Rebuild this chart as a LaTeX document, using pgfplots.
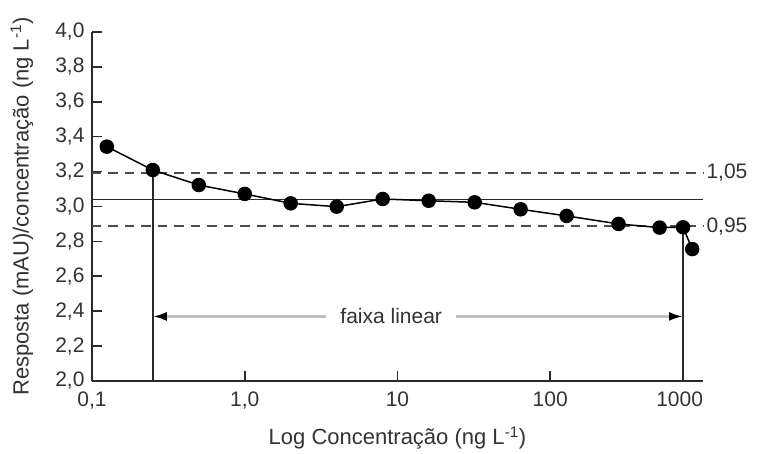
\documentclass[border=0pt]{standalone}
\usepackage{fontspec}
\setmainfont{Liberation Sans}
\usepackage{pgfplots}
\pgfplotsset{compat=1.18}
\usetikzlibrary{arrows.meta}
\definecolor{txt}{HTML}{333333}
\definecolor{axc}{HTML}{2A2A2A}
\begin{document}
\begin{tikzpicture}
\begin{axis}[
  scale only axis, width=611pt, height=349pt,
  xmode=log, xmin=0.1, xmax=1000, ymin=2, ymax=4,
  axis x line=bottom, axis y line=left,
  axis line style={-, axc, line width=1.6pt},
  tick style={axc, line width=1.6pt},
  tick align=inside, major tick length=10pt,
  xtick={1,10,100}, xticklabels={{1,0},{10},{100}},
  extra x ticks={0.1,1000}, extra x tick labels={{0,1},{\makebox[0pt][r]{1000}}},
  extra x tick style={major tick length=0pt},
  xminorticks=false, yminorticks=false,
  ytick={2,2.2,...,4.01},
  yticklabel={\pgfmathprintnumber[fixed,fixed zerofill,precision=1,use comma]{\tick}},
  /pgf/number format/assume math mode=true,
  ticklabel style={font=\fontsize{21}{24}\selectfont, text=txt},
  xticklabel style={yshift=-7pt},
  yticklabel style={xshift=-4pt},
  label style={font=\fontsize{22}{26}\selectfont, text=txt},
  xlabel={Log Concentração (ng L\textsuperscript{-1})},
  ylabel={Resposta (mAU)/concentração (ng L\textsuperscript{-1})},
  xlabel style={at={(axis description cs:0.5,0)}, anchor=center, yshift=-57pt},
  ylabel style={at={(axis description cs:0,0.5)}, anchor=center, yshift=70pt},
  clip=false,
]
% mean and +/-5% lines
\addplot[axc, line width=1.5pt] coordinates {(0.1,3.04) (1000,3.04)};
\addplot[black!70, line width=1.8pt, dash pattern=on 9.5pt off 7pt] coordinates {(0.1,3.192) (1000,3.192)};
\addplot[black!70, line width=1.8pt, dash pattern=on 9.5pt off 7pt] coordinates {(0.1,2.888) (1000,2.888)};
% linear range limits
\addplot[axc, line width=1.5pt] coordinates {(0.25,2) (0.25,3.209)};
\addplot[axc, line width=1.5pt] coordinates {(740,2) (740,2.881)};
% data
\addplot[black, line width=1.5pt, mark=*, mark size=6.5pt, mark options={fill=black}] coordinates {
(0.125,3.343) (0.25,3.209) (0.5,3.123) (1,3.072) (2,3.018) (4,2.999) (8,3.043)
(16,3.033) (32,3.024) (64,2.984) (128,2.946) (280,2.900) (520,2.879) (740,2.881) (850,2.756)};
% annotation
\draw[black!25, line width=2.6pt, {Latex[length=14pt,width=9pt,color=black]}-{Latex[length=14pt,width=9pt,color=black]}] (axis cs:0.25,2.37) -- (axis cs:740,2.37);
\node[fill=white, inner xsep=14pt, text=txt, font=\fontsize{21}{24}\selectfont] at (axis cs:9.1,2.37) {faixa linear};
\node[anchor=west, text=txt, font=\fontsize{21}{24}\selectfont] at (axis cs:1000,3.192) {1,05};
\node[anchor=west, text=txt, font=\fontsize{21}{24}\selectfont] at (axis cs:1000,2.888) {0,95};
\end{axis}
\pgfresetboundingbox
\path[use as bounding box] ([shift={(-92pt,-73pt)}]current axis.south west) rectangle ([shift={(669pt,381pt)}]current axis.south west);
\end{tikzpicture}
\end{document}
